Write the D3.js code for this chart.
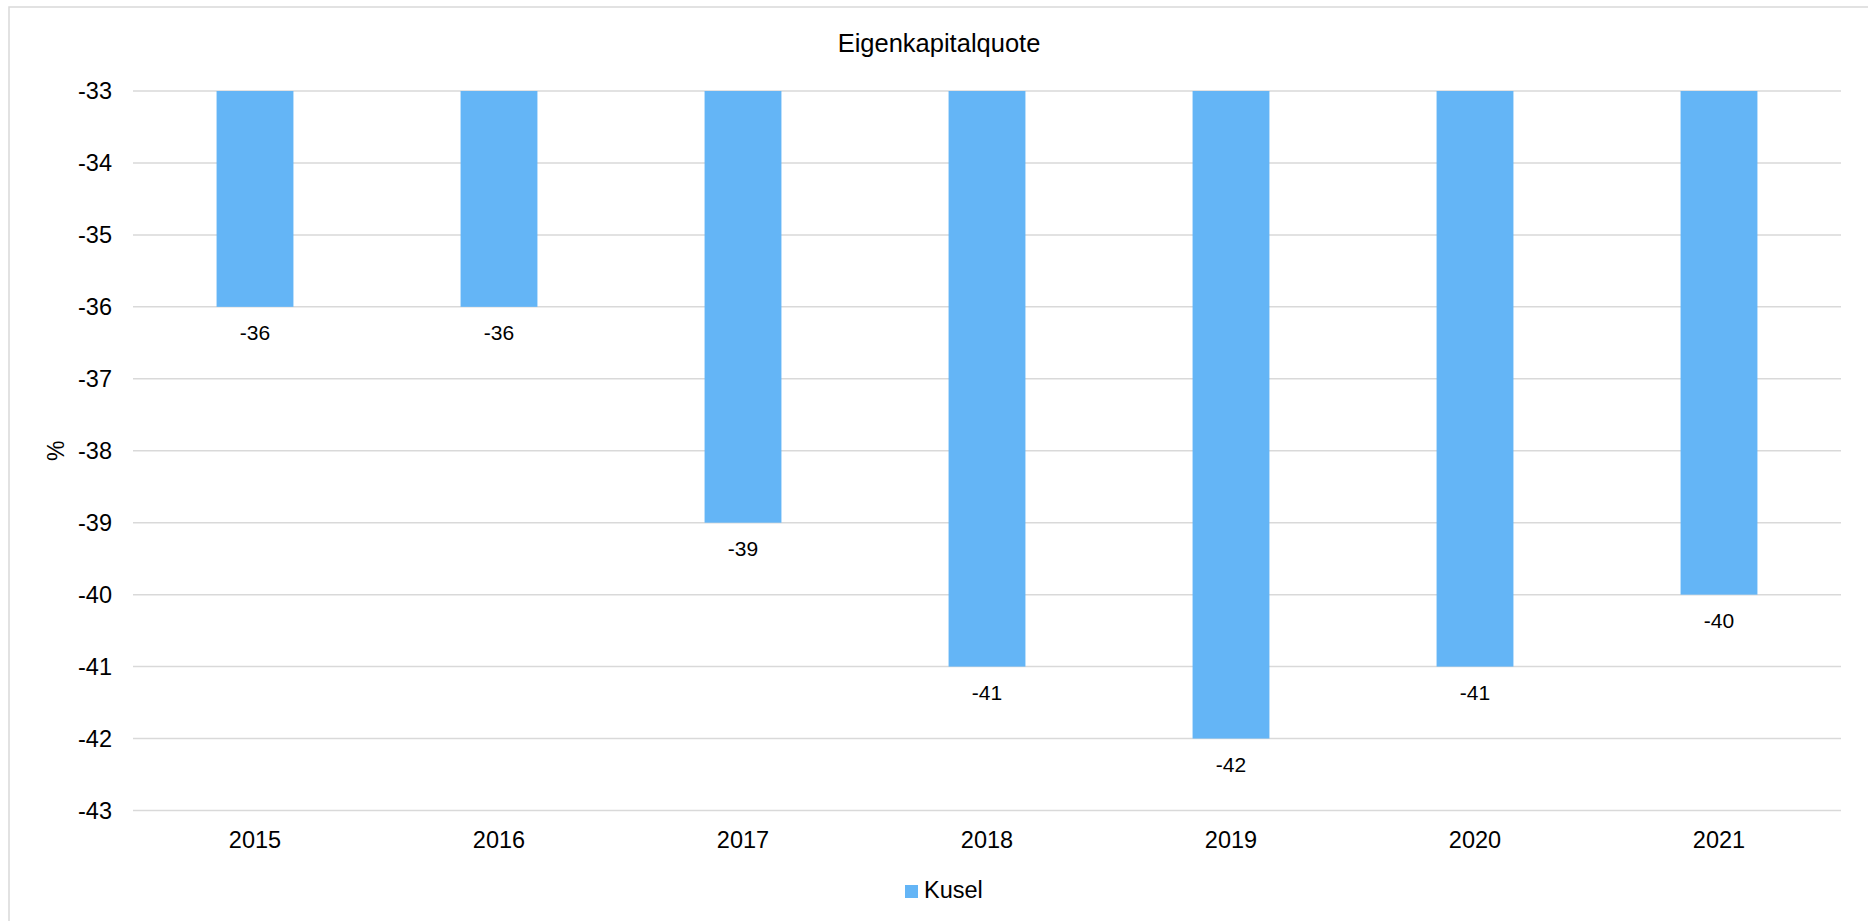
<!DOCTYPE html>
<html>
<head>
<meta charset="utf-8">
<script src="https://cdn.jsdelivr.net/npm/d3@7"></script>
<style>
  html, body { margin: 0; padding: 0; background: #fff; }
  svg { display: block; font-family: "Liberation Sans", Arial, sans-serif; }
</style>
</head>
<body>
<svg id="chart" width="1868" height="921"></svg>
<script>
const title = "Eigenkapitalquote";
const seriesName = "Kusel";
const years = ["2015", "2016", "2017", "2018", "2019", "2020", "2021"];
const values = [-36, -36, -39, -41, -42, -41, -40];
const yTicks = [-33, -34, -35, -36, -37, -38, -39, -40, -41, -42, -43];
const yLabel = "%";

const svg = d3.select("#chart");
const W = 1868, H = 921;
const plot = { left: 133, right: 1841, top: 91, bottom: 810.5 };
const barColor = "#64B5F6";
const gridColor = "#d9d9d9";

// container border
svg.append("rect")
  .attr("x", 9).attr("y", 7)
  .attr("width", W + 20).attr("height", H + 20)
  .attr("fill", "#fff").attr("stroke", gridColor).attr("stroke-width", 1.5);

const x = d3.scaleBand().domain(years).range([plot.left, plot.right]).padding(0);
const y = d3.scaleLinear().domain([-43, -33]).range([plot.bottom, plot.top]);
const barW = x.bandwidth() * 0.315;

// gridlines
svg.append("g").selectAll("line").data(yTicks).join("line")
  .attr("x1", plot.left).attr("x2", plot.right)
  .attr("y1", d => y(d)).attr("y2", d => y(d))
  .attr("stroke", gridColor).attr("stroke-width", 1.5);

// y tick labels
svg.append("g").selectAll("text").data(yTicks).join("text")
  .attr("x", 112).attr("y", d => y(d) + 8.4)
  .attr("text-anchor", "end")
  .attr("font-size", 23.5).attr("fill", "#000")
  .text(d => d);

// bars
svg.append("g").selectAll("rect").data(values).join("rect")
  .attr("x", (d, i) => x(years[i]) + x.bandwidth() / 2 - barW / 2)
  .attr("width", barW)
  .attr("y", y(-33))
  .attr("height", d => y(d) - y(-33))
  .attr("fill", barColor);

// data labels
svg.append("g").selectAll("text").data(values).join("text")
  .attr("x", (d, i) => x(years[i]) + x.bandwidth() / 2)
  .attr("y", d => y(d) + 33)
  .attr("text-anchor", "middle")
  .attr("font-size", 21).attr("fill", "#000")
  .text(d => d);

// x labels
svg.append("g").selectAll("text").data(years).join("text")
  .attr("x", d => x(d) + x.bandwidth() / 2)
  .attr("y", plot.bottom + 37)
  .attr("text-anchor", "middle")
  .attr("font-size", 23.5).attr("fill", "#000")
  .text(d => d);

// title
svg.append("text")
  .attr("x", 939).attr("y", 52)
  .attr("text-anchor", "middle")
  .attr("font-size", 25.5).attr("fill", "#000")
  .text(title);

// y axis label
svg.append("text")
  .attr("transform", `translate(64, ${(plot.top + plot.bottom) / 2}) rotate(-90)`)
  .attr("text-anchor", "middle")
  .attr("font-size", 23).attr("fill", "#000")
  .text(yLabel);

// legend
const lg = svg.append("g");
lg.append("rect").attr("x", 905).attr("y", 885).attr("width", 13).attr("height", 13).attr("fill", barColor);
lg.append("text").attr("x", 924).attr("y", 898)
  .attr("font-size", 23.5).attr("fill", "#000").text(seriesName);
</script>
</body>
</html>
